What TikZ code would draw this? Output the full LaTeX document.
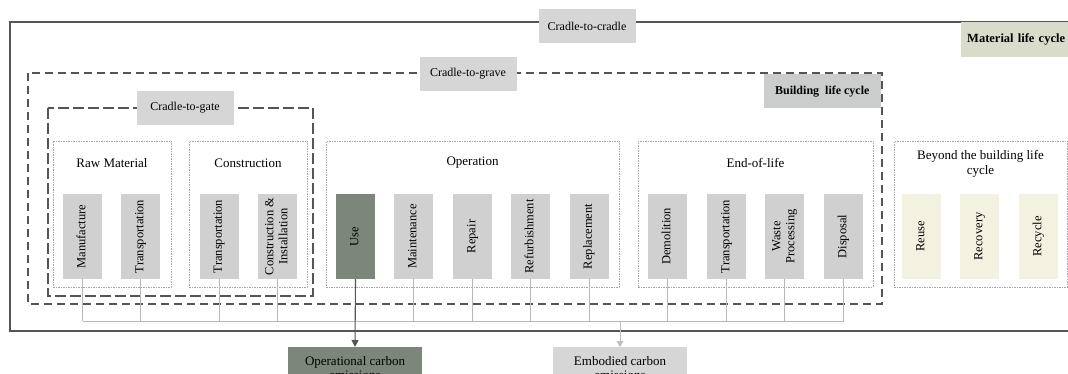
\documentclass[tikz,border=0pt]{standalone}
\usepackage{fontspec}
\setmainfont{Liberation Serif}
\usepackage{graphicx}
\usetikzlibrary{arrows.meta}

\definecolor{taggray}{HTML}{D6D6D6}
\definecolor{itemgray}{HTML}{D0D0D0}
\definecolor{usegreen}{HTML}{7C867B}
\definecolor{bldgray}{HTML}{CBCDCD}
\definecolor{matgreen}{HTML}{DADCCB}
\definecolor{recream}{HTML}{F3F2E1}
\definecolor{framegray}{HTML}{555555}

\newcommand{\vtext}[1]{\rotatebox{90}{\begin{tabular}{@{}c@{}}#1\end{tabular}}}

\begin{document}
\begin{tikzpicture}[x=1pt,y=-1pt,
		every node/.style={
			align=center,
			inner sep=0pt,
			font=\fontsize{12}{14}\selectfont
		},
		stage/.style={
			draw=gray!70,
			dash pattern=on 1.5pt off 1pt,
			line width=0.7pt,
			minimum height=146pt
		},
		stagetitle/.style={
			font=\fontsize{13}{15}\selectfont
		},
		item/.style={
			fill=itemgray,
			minimum width=39pt,
			minimum height=85pt,
			font=\fontsize{12.5}{14}\selectfont
		},
		useitem/.style={item, fill=usegreen},
		reitem/.style={item, fill=recream},
		tag/.style={
			fill=taggray,
			minimum width=97pt,
			minimum height=34pt
		},
		emission/.style={
			anchor=north,
			minimum width=134pt,
			minimum height=42pt,
			inner ysep=1pt,
			font=\fontsize{13}{14.5}\selectfont
		},
		link/.style={draw=gray!55, line width=0.8pt}]

		\useasboundingbox (0,0) rectangle (1068,374);

		% life cycle frames
		\draw[framegray, line width=1.5pt] (10,22) rectangle (1090,331);
		\draw[framegray, line width=1.8pt, dash pattern=on 8pt off 5pt] (28,73) rectangle (882,304);
		\draw[framegray, line width=1.2pt, dash pattern=on 11pt off 4pt] (48,108) rectangle (313,296);

		%labels
		\node[tag] (c2c) at (587,26) {Cradle-to-cradle};
		\node[tag] (c2grave) at (468,74) {Cradle-to-grave};
		\node[tag] (c2gate) at (185,108) {Cradle-to-gate};
		\node[fill=bldgray, anchor=north east, minimum width=117pt, minimum height=34pt,
			font=\bfseries\fontsize{12}{14}\selectfont] (blc) at (881,74) {Building\ \ life cycle};
		\node[fill=matgreen, anchor=north west, minimum width=130pt, minimum height=35pt,
			text width=118pt, align=left, font=\bfseries\fontsize{12.5}{14}\selectfont] (mlc) at (961,22) {Material life cycle};

		% stages
		\node[stage, minimum width=118pt] (raw) at (112,214) {};
		\node[stage, minimum width=118pt] (con) at (248,214) {};
		\node[stage, minimum width=293pt] (op) at (472.5,214) {};
		\node[stage, minimum width=235pt] (eol) at (755.5,214) {};
		\node[stage, minimum width=173pt] (bey) at (980.5,214) {};

		\node[stagetitle] (rawt) at (112,163) {Raw Material};
		\node[stagetitle] (cont) at (248,163) {Construction};
		\node[stagetitle] (opt) at (472.5,163) {Operation};
		\node[stagetitle] (eolt) at (755.5,163) {End-of-life};
		\node[stagetitle] (beyt) at (980.5,163.5) {Beyond the building life\\cycle};

		% processes
		\node[item] (raw1) at (82.5,236.5) {\vtext{Manufacture}};
		\node[item] (raw2) at (140.5,236.5) {\vtext{Transportation}};
		\node[item] (con1) at (219,236.5) {\vtext{Transportation}};
		\node[item] (con2) at (277.5,236.5) {\vtext{Construction \&\\Installation}};
		\node[useitem] (op1) at (355.5,236.5) {\vtext{Use}};
		\node[item] (op2) at (413.5,236.5) {\vtext{Maintenance}};
		\node[item] (op3) at (472.5,236.5) {\vtext{Repair}};
		\node[item] (op4) at (530.5,236.5) {\vtext{Refurbishment}};
		\node[item] (op5) at (589,236.5) {\vtext{Replacement}};
		\node[item] (eol1) at (667.5,236.5) {\vtext{Demolition}};
		\node[item] (eol2) at (726.5,236.5) {\vtext{Transportation}};
		\node[item] (eol3) at (784.5,236.5) {\vtext{Waste\\Processing}};
		\node[item] (eol4) at (843.5,236.5) {\vtext{Disposal}};
		\node[reitem] (bey1) at (921.5,236.5) {\vtext{Reuse}};
		\node[reitem] (bey2) at (979.5,236.5) {\vtext{Recovery}};
		\node[reitem] (bey3) at (1038.5,236.5) {\vtext{Recycle}};

		% emissions
		\node[emission, fill=usegreen] (opc) at (355,347) {Operational carbon\\emissions};
		\node[emission, fill=taggray] (emb) at (620,347) {Embodied carbon\\emissions};

		% connectors
		\coordinate (bus) at (0,321);
		\draw[link] (raw1.south) -- (raw1.south |- bus);
		\draw[link] (raw2.south) -- (raw2.south |- bus);
		\draw[link] (con1.south) -- (con1.south |- bus);
		\draw[link] (con2.south) -- (con2.south |- bus);
		\draw[link] (op2.south) -- (op2.south |- bus);
		\draw[link] (op3.south) -- (op3.south |- bus);
		\draw[link] (op4.south) -- (op4.south |- bus);
		\draw[link] (op5.south) -- (op5.south |- bus);
		\draw[link] (eol1.south) -- (eol1.south |- bus);
		\draw[link] (eol2.south) -- (eol2.south |- bus);
		\draw[link] (eol3.south) -- (eol3.south |- bus);
		\draw[link] (eol4.south) -- (eol4.south |- bus);
		\draw[link] (raw1.south |- bus) -- (eol4.south |- bus);
		\draw[link, -{Triangle[width=7pt,length=6pt]}, draw=gray!50, fill=gray!50] (emb.north |- bus) -- (emb.north);
		\draw[framegray, line width=1.1pt, -{Triangle[width=7pt,length=7pt]}] (op1.south) -- (opc.north);

	\end{tikzpicture}
\end{document}
